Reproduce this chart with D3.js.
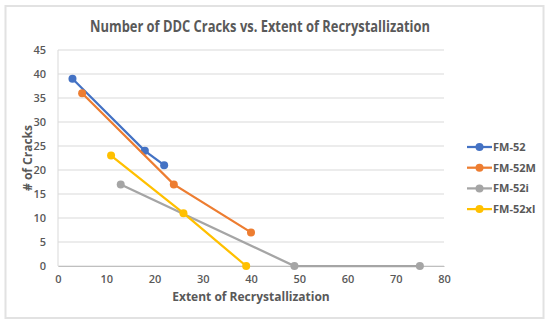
<!DOCTYPE html>
<html>
<head>
<meta charset="utf-8">
<script src="https://cdn.jsdelivr.net/npm/d3@7"></script>
<style>
  body { margin: 0; background: #fff; }
  text { font-family: "Open Sans", "Liberation Sans", sans-serif; fill: #595959; }
</style>
</head>
<body>
<div id="chart"></div>
<script>
// Series data
const seriesNames = ["FM-52", "FM-52M", "FM-52i", "FM-52xl"];
const seriesColors = ["#4472C4", "#ED7D31", "#A5A5A5", "#FFC000"];
const fm52 = [[3, 39], [18, 24], [22, 21]];
const fm52m = [[5, 36], [24, 17], [40, 7]];
const fm52i = [[13, 17], [49, 0], [75, 0]];
const fm52xl = [[11, 23], [26, 11], [39, 0]];
const xTicks = [0, 10, 20, 30, 40, 50, 60, 70, 80];
const yTicks = [0, 5, 10, 15, 20, 25, 30, 35, 40, 45];

const allSeries = [fm52, fm52m, fm52i, fm52xl];

const width = 550;
const height = 327;
const margin = { top: 50, right: 106, bottom: 61, left: 58 };

const svg = d3.select("#chart")
  .append("svg")
  .attr("width", width)
  .attr("height", height);

// Chart frame
svg.append("rect")
  .attr("x", 5.5)
  .attr("y", 6)
  .attr("width", 538)
  .attr("height", 312)
  .attr("fill", "#fff")
  .attr("stroke", "#e2e2e2")
  .attr("stroke-width", 2);

const x = d3.scaleLinear()
  .domain([0, 80])
  .range([margin.left, width - margin.right]);

const y = d3.scaleLinear()
  .domain([0, 45])
  .range([height - margin.bottom, margin.top]);

// Horizontal gridlines
svg.append("g")
  .selectAll("line")
  .data(yTicks)
  .join("line")
  .attr("x1", x(0))
  .attr("x2", x(80))
  .attr("y1", d => y(d))
  .attr("y2", d => y(d))
  .attr("stroke", "#d9d9d9")
  .attr("stroke-width", 1);

// Vertical axis line
svg.append("line")
  .attr("x1", x(0))
  .attr("x2", x(0))
  .attr("y1", y(0))
  .attr("y2", y(45))
  .attr("stroke", "#d9d9d9");

// X axis
const xAxis = svg.append("g")
  .attr("transform", `translate(0, ${y(0)})`)
  .call(d3.axisBottom(x).tickValues(xTicks).tickSize(0).tickPadding(9));
xAxis.select(".domain").attr("stroke", "#bfbfbf");
xAxis.selectAll("text")
  .style("font-size", "11px")
  .style("font-weight", "600")
  .attr("fill", "#595959");

// Y axis
const yAxis = svg.append("g")
  .attr("transform", `translate(${x(0)}, 0)`)
  .call(d3.axisLeft(y).tickValues(yTicks).tickSize(0).tickPadding(12));
yAxis.select(".domain").remove();
yAxis.selectAll("text")
  .style("font-size", "11px")
  .style("font-weight", "600")
  .attr("fill", "#595959");

// Title
svg.append("text")
  .attr("x", 260)
  .attr("y", 32)
  .attr("text-anchor", "middle")
  .style("font-size", "15.5px")
  .style("font-weight", "700")
  .attr("textLength", 340)
  .attr("lengthAdjust", "spacingAndGlyphs")
  .text("Number of DDC Cracks vs. Extent of Recrystallization");

// Axis labels
svg.append("text")
  .attr("x", x(40))
  .attr("y", 301)
  .attr("text-anchor", "middle")
  .style("font-size", "12px")
  .style("font-weight", "700")
  .text("Extent of Recrystallization");

svg.append("text")
  .attr("transform", `translate(32, ${y(22.5)}) rotate(-90)`)
  .attr("text-anchor", "middle")
  .style("font-size", "12px")
  .style("font-weight", "700")
  .text("# of Cracks");

// Lines and markers
const line = d3.line()
  .x(d => x(d[0]))
  .y(d => y(d[1]));

allSeries.forEach((pts, i) => {
  const g = svg.append("g");
  g.append("path")
    .datum(pts)
    .attr("d", line)
    .attr("fill", "none")
    .attr("stroke", seriesColors[i])
    .attr("stroke-width", 2.25);
  g.selectAll("circle")
    .data(pts)
    .join("circle")
    .attr("cx", d => x(d[0]))
    .attr("cy", d => y(d[1]))
    .attr("r", 4)
    .attr("fill", seriesColors[i]);
});

// Legend
const legend = svg.append("g")
  .selectAll("g")
  .data(seriesNames)
  .join("g")
  .attr("transform", (d, i) => `translate(467, ${147 + i * 20.7})`);

legend.append("line")
  .attr("x1", 0)
  .attr("x2", 25)
  .attr("stroke", (d, i) => seriesColors[i])
  .attr("stroke-width", 2.25);

legend.append("circle")
  .attr("cx", 12.5)
  .attr("r", 4)
  .attr("fill", (d, i) => seriesColors[i]);

legend.append("text")
  .attr("x", 26)
  .attr("dy", "0.35em")
  .style("font-size", "11px")
  .style("font-weight", "700")
  .text(d => d);
</script>
</body>
</html>
